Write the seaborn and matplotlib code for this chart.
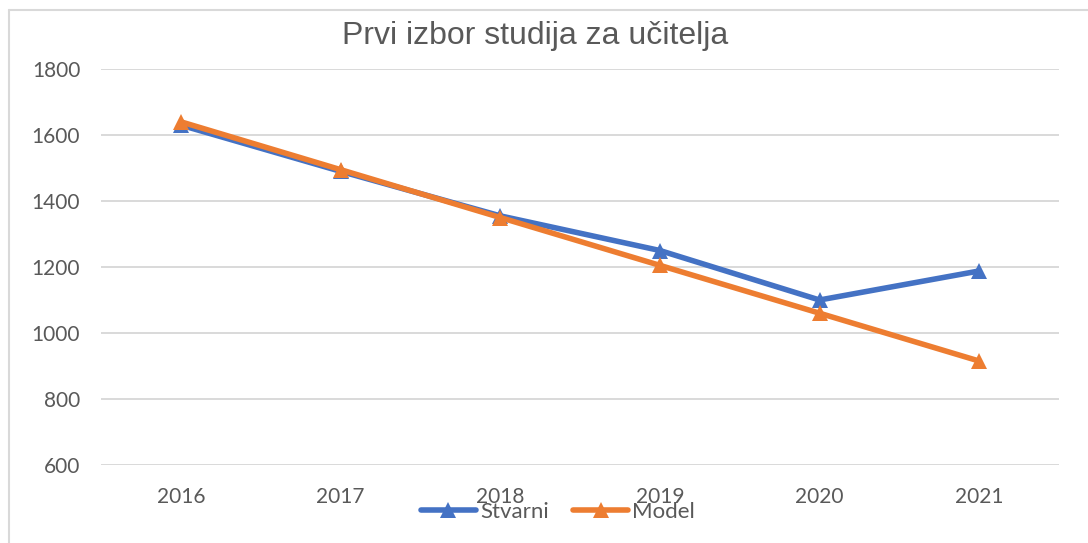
import matplotlib
matplotlib.use("Agg")
import matplotlib.pyplot as plt
from matplotlib.lines import Line2D
import seaborn as sns
import pandas as pd

# Data
years = [2016, 2017, 2018, 2019, 2020, 2021]
stvarni = [1630, 1490, 1355, 1250, 1100, 1188]
model = [1640, 1495, 1350, 1205, 1060, 915]
series_names = ["Stvarni", "Model"]
colors = ["#4472C4", "#ED7D31"]
title = "Prvi izbor studija za učitelja"

df = pd.DataFrame({
    "Godina": years * 2,
    "Vrijednost": stvarni + model,
    "Serija": [series_names[0]] * len(years) + [series_names[1]] * len(years),
})

sns.set_theme(style="white")
plt.rcParams["font.family"] = ["Lato", "DejaVu Sans"]

fig = plt.figure(figsize=(10.88, 5.43), dpi=100)
W, H = 1088, 543
ax = fig.add_axes([101 / W, 1 - 465 / H, (1059 - 101) / W, (465 - 69) / H])

sns.lineplot(
    data=df, x="Godina", y="Vrijednost", hue="Serija", hue_order=series_names,
    palette=colors, style="Serija", markers=["^", "^"], dashes=False,
    linewidth=4.0, markersize=11, markeredgewidth=0, ax=ax, legend=False,
)

ax.set_xlim(years[0] - 0.5, years[-1] + 0.5)
ax.set_ylim(600, 1800)
ax.set_yticks(range(600, 1801, 200))
ax.set_xticks(years)
ax.set_xticklabels([str(y) for y in years])
ax.set_xlabel("")
ax.set_ylabel("")
ax.grid(axis="y", color="#D9D9D9", linewidth=1.4)
ax.grid(axis="x", visible=False)
ax.set_axisbelow(True)
for s in ax.spines.values():
    s.set_visible(False)
ax.tick_params(axis="y", length=0, pad=15, labelsize=15, labelcolor="#595959")
ax.tick_params(axis="x", length=0, pad=16, labelsize=15, labelcolor="#595959")

# Title
fig.text(535 / W, 1 - 36 / H, title, ha="center", va="center",
         fontsize=23, color="#595959", family=["Liberation Sans", "DejaVu Sans"])

# Chart frame (left and top edges)
fig.add_artist(Line2D([9 / W, 9 / W], [0, 1 - 10 / H], transform=fig.transFigure,
                      color="#D9D9D9", linewidth=1.5))
fig.add_artist(Line2D([9 / W, 1], [1 - 10 / H, 1 - 10 / H], transform=fig.transFigure,
                      color="#D9D9D9", linewidth=1.5))

# Legend
handles = [Line2D([0], [0], color=c, linewidth=4.0, marker="^", markersize=11,
                  markeredgewidth=0) for c in colors]
leg = fig.legend(handles, series_names, loc="center", bbox_to_anchor=(558 / W, 1 - 512 / H),
                 ncol=2, frameon=False, fontsize=16, handlelength=2.48,
                 handletextpad=0.18, columnspacing=1.1, borderpad=0, borderaxespad=0)
for t in leg.get_texts():
    t.set_color("#595959")

fig.savefig("out.png", dpi=100)
